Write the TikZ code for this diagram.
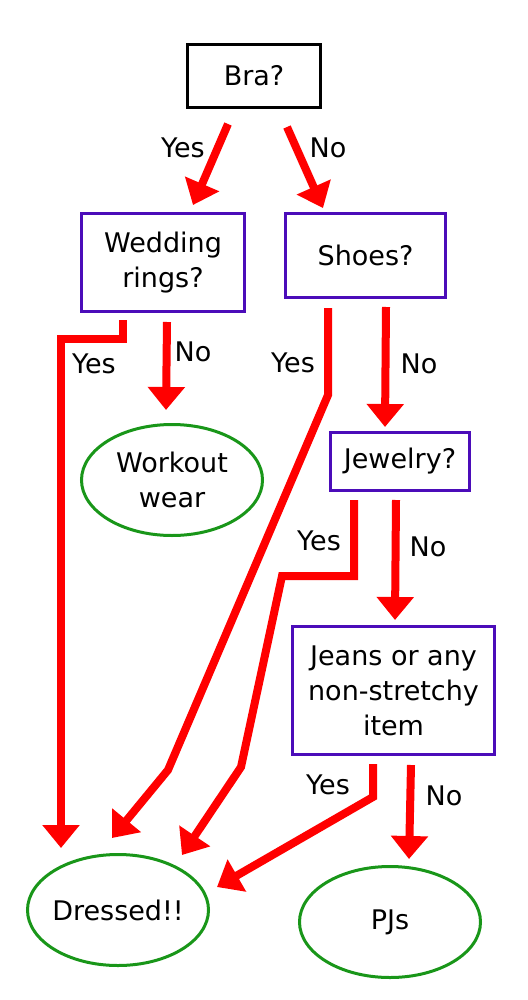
\documentclass[tikz,border=0pt]{standalone}
\usepackage{fontspec}
\setmainfont{DejaVu Sans}
\usetikzlibrary{shapes.geometric, arrows.meta}
\definecolor{boxpurple}{RGB}{75,12,185}
\definecolor{endgreen}{RGB}{25,150,25}

\begin{document}
\begin{tikzpicture}[x=1pt, y=-1pt,
    question/.style={draw=boxpurple, line width=3pt, rectangle, align=center, inner sep=0pt, font=\fontsize{27}{35}\selectfont},
    outcome/.style={draw=endgreen, line width=3pt, ellipse, align=center, inner xsep=-6pt, inner ysep=0pt, minimum width=181pt, minimum height=111pt, font=\fontsize{27}{35}\selectfont},
    answer/.style={anchor=base, font=\fontsize{27}{35}\selectfont},
    flow/.style={draw=red, line width=8pt, -{Triangle[width=36pt, length=23pt]}}]
    \useasboundingbox (0,0) rectangle (527,1000);

    % Questions
    \node[question, draw=black, minimum width=133pt, minimum height=63pt] (bra) at (254,76) {Bra?};
    \node[question, minimum width=163pt, minimum height=98pt] (wed) at (163,262.5) {Wedding\\rings?};
    \node[question, minimum width=160pt, minimum height=84pt] (shoes) at (365.5,255.5) {Shoes?};
    \node[question, minimum width=139pt, minimum height=58pt] (jewel) at (400,461.5) {Jewelry?};
    \node[question, minimum width=202pt, minimum height=128pt] (jeans) at (393.5,690.5) {Jeans or any\\non-stretchy\\item};

    % Outcomes
    \node[outcome] (workout) at (172,480) {Workout\\wear};
    \node[outcome] (dressed) at (118,910) {Dressed!!};
    \node[outcome] (pjs) at (390,922) {PJs};

    % Bra?
    \draw[flow] ([shift={(-26,15)}]bra.south) -- ([shift={(30,-7)}]wed.north);
    \draw[flow] ([shift={(33,18)}]bra.south) -- ([shift={(-42.5,-4)}]shoes.north);
    \node[answer] (braYes) at (183,158) {Yes};
    \node[answer] (braNo) at (328,158) {No};

    % Wedding rings?
    \draw[flow] ([shift={(-40,7)}]wed.south) -- ++(0,19) -| ([shift={(-57,-5)}]dressed.north);
    \draw[flow] ([shift={(4,9)}]wed.south) -- ([shift={(-6,-13)}]workout.north);
    \node[answer] (wedYes) at (94,373) {Yes};
    \node[answer] (wedNo) at (193,361) {No};

    % Shoes?
    \draw[flow] ([shift={(-37.5,9)}]shoes.south) -- (328,395) -- (168,770) -- ([shift={(-6,-15)}]dressed.north);
    \draw[flow] ([shift={(20.5,8)}]shoes.south) -- ([shift={(-15,-4)}]jewel.north);
    \node[answer] (shoesYes) at (293,372) {Yes};
    \node[answer] (shoesNo) at (419,373) {No};

    % Jewelry?
    \draw[flow] ([shift={(-46,8)}]jewel.south) -- (354,576) -- (282,576) -- (241,767) -- ([shift={(64,-55)}]dressed.center);
    \draw[flow] ([shift={(-4,8)}]jewel.south) -- ([shift={(1.5,-5)}]jeans.north);
    \node[answer] (jewelYes) at (319,550) {Yes};
    \node[answer] (jewelNo) at (428,556) {No};

    % Jeans or any non-stretchy item
    \draw[flow] ([shift={(-20.5,8)}]jeans.south) -- (373,797) -- ([shift={(99,-23)}]dressed.center);
    \draw[flow] ([shift={(17.5,9)}]jeans.south) -- ([shift={(19,-6)}]pjs.north);
    \node[answer] (jeansYes) at (328,794) {Yes};
    \node[answer] (jeansNo) at (444,805) {No};
\end{tikzpicture}
\end{document}
